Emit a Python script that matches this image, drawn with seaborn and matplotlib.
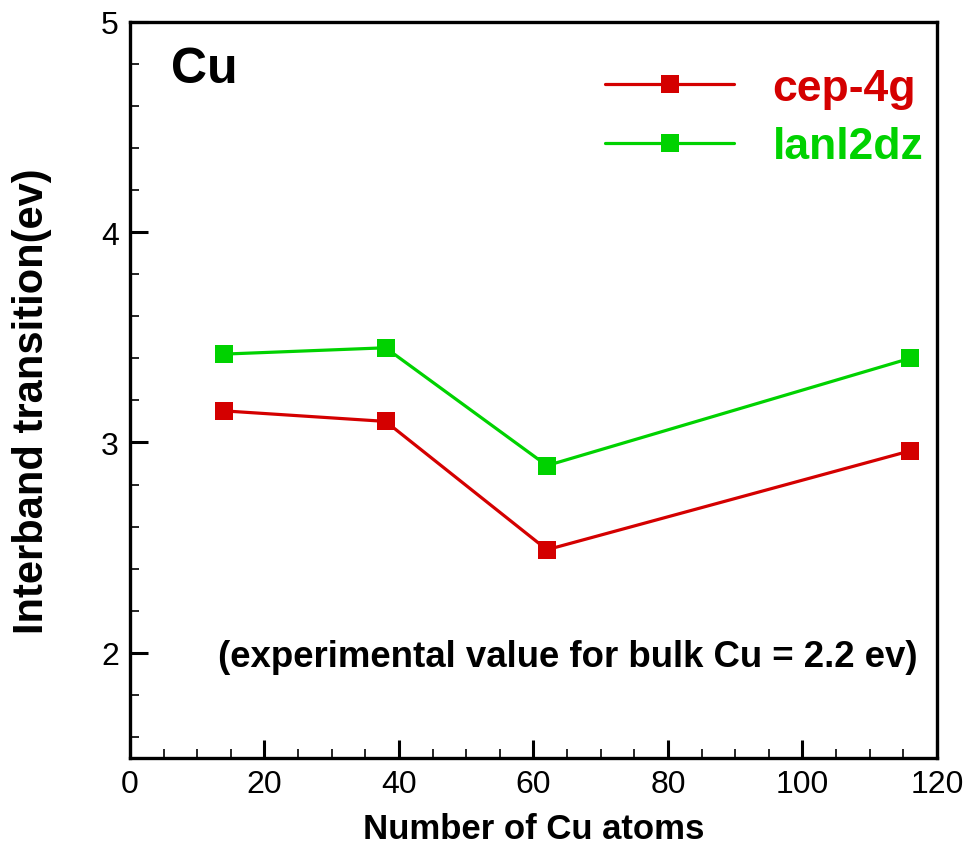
import matplotlib
matplotlib.use("Agg")
import matplotlib.pyplot as plt
import seaborn as sns
import pandas as pd
from matplotlib.ticker import MultipleLocator

# Cluster sizes (number of Cu atoms)
atoms = [14, 38, 62, 116]
# Interband transition energies (eV) for each basis set
cep_4g = [3.15, 3.10, 2.49, 2.96]
lanl2dz = [3.42, 3.45, 2.89, 3.40]
series_names = ["cep-4g", "lanl2dz"]
series_colors = ["#D40000", "#00D200"]

df = pd.DataFrame({
    "atoms": atoms * 2,
    "energy": cep_4g + lanl2dz,
    "basis": [series_names[0]] * len(atoms) + [series_names[1]] * len(atoms),
})

sns.set_theme(style="white")
plt.rcParams["font.family"] = ["Liberation Sans", "DejaVu Sans"]
plt.rcParams["text.color"] = "black"
plt.rcParams["axes.labelcolor"] = "black"
plt.rcParams["xtick.color"] = "black"
plt.rcParams["ytick.color"] = "black"

fig = plt.figure(figsize=(9.73, 8.45), dpi=100)
ax = fig.add_axes([0.1336, 0.1018, 0.8294, 0.8713])

sns.lineplot(
    data=df, x="atoms", y="energy", hue="basis",
    palette=dict(zip(series_names, series_colors)),
    style="basis", markers={n: "s" for n in series_names}, dashes=False,
    markersize=13, markeredgewidth=0, linewidth=2.3, ax=ax, legend=False,
)

ax.set_xlim(0, 120)
ax.set_ylim(1.5, 5)
ax.xaxis.set_major_locator(MultipleLocator(20))
ax.xaxis.set_minor_locator(MultipleLocator(5))
ax.yaxis.set_major_locator(MultipleLocator(1))
ax.yaxis.set_minor_locator(MultipleLocator(0.2))
ax.tick_params(which="both", direction="in", top=False, right=False,
               bottom=True, left=True, color="black", labelcolor="black")
ax.tick_params(which="major", length=13, width=2.2, labelsize=23, pad=8)
ax.tick_params(which="minor", length=6.5, width=1.2)
for s in ax.spines.values():
    s.set_linewidth(2.4)
    s.set_color("black")

ax.set_xlabel("Number of Cu atoms", fontsize=25, fontweight="bold", labelpad=9)
ax.set_ylabel("Interband transition(ev)", fontsize=30, fontweight="bold",
              labelpad=35)
ax.yaxis.label.set_y(0.486)

ax.text(0.0508, 0.9355, "Cu", transform=ax.transAxes, fontsize=36,
        fontweight="bold", va="center", ha="left")
ax.text(0.9765, 0.1385, "(experimental value for bulk Cu = 2.2 ev)",
        transform=ax.transAxes, fontsize=26.4, fontweight="bold",
        va="center", ha="right")

handles = [
    plt.Line2D([], [], color=c, marker="s", markersize=13, markeredgewidth=0,
               linewidth=2.3)
    for c in series_colors
]
leg = ax.legend(handles, series_names, loc="upper right",
                bbox_to_anchor=(0.983, 0.9375), frameon=False,
                borderaxespad=0, borderpad=0,
                prop={"size": 32, "weight": "bold"},
                handlelength=2.9, handletextpad=0.86, labelspacing=0.39,
                labelcolor=series_colors)

fig.savefig("out.png", dpi=100)
